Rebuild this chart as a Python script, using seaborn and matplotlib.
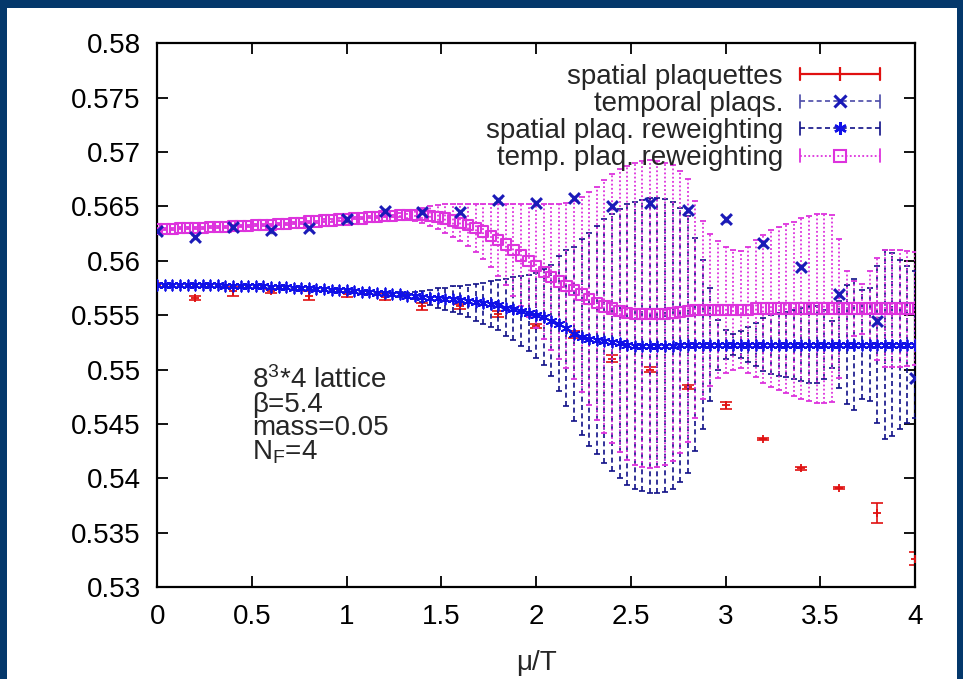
import numpy as np
import matplotlib
matplotlib.use("Agg")
import matplotlib.pyplot as plt
import seaborn as sns
from matplotlib.lines import Line2D
from matplotlib.legend_handler import HandlerBase
from matplotlib.patches import Rectangle

# ---------------- data ----------------
mu_coarse = [0.0, 0.2, 0.4, 0.6, 0.8, 1.0, 1.2, 1.4, 1.6, 1.8, 2.0,
             2.2, 2.4, 2.6, 2.8, 3.0, 3.2, 3.4, 3.6, 3.8, 4.0]

spatial_plaq = [0.5578, 0.5566, 0.5572, 0.5572, 0.5568, 0.5569, 0.5567, 0.5558, 0.5558, 0.5551, 0.5540,
                0.5532, 0.5510, 0.5500, 0.5484, 0.5467, 0.5436, 0.5409, 0.5391, 0.5368, 0.5326]
spatial_plaq_err = [0.0002, 0.0002, 0.0004, 0.0002, 0.0004, 0.0002, 0.0003, 0.0003, 0.0002, 0.0003, 0.0002,
                    0.0003, 0.0003, 0.0002, 0.0002, 0.0003, 0.0001, 0.0001, 0.0001, 0.0009, 0.0006]

temporal_plaq = [0.5627, 0.5622, 0.5631, 0.5628, 0.5630, 0.5638, 0.5646, 0.5645, 0.5645, 0.5656, 0.5653,
                 0.5658, 0.5650, 0.5653, 0.5647, 0.5638, 0.5616, 0.5594, 0.5569, 0.5545, 0.5492]
temporal_plaq_err = [0.0002, 0.0002, 0.0002, 0.0002, 0.0002, 0.0002, 0.0002, 0.0002, 0.0002, 0.0002, 0.0002,
                     0.0002, 0.0002, 0.0002, 0.0002, 0.0002, 0.0002, 0.0002, 0.0002, 0.0003, 0.0003]

mu_fine = np.round(np.arange(101) * 0.04, 2)

spatial_rw = [
    0.5578, 0.5578, 0.5578, 0.5578, 0.5578, 0.5578, 0.5578, 0.5578, 0.5578, 0.5577,
    0.5577, 0.5577, 0.5577, 0.5577, 0.5577, 0.5576, 0.5576, 0.5576, 0.5575, 0.5575,
    0.5575, 0.5574, 0.5574, 0.5573, 0.5573, 0.5573, 0.5572, 0.5571, 0.5571, 0.5570,
    0.5570, 0.5569, 0.5569, 0.5568, 0.5568, 0.5567, 0.5566, 0.5566, 0.5565, 0.5565,
    0.5564, 0.5563, 0.5562, 0.5561, 0.5560, 0.5559, 0.5557, 0.5556, 0.5554, 0.5552,
    0.5550, 0.5548, 0.5545, 0.5542, 0.5538, 0.5533, 0.5530, 0.5528, 0.5527, 0.5526,
    0.5525, 0.5524, 0.5523, 0.5522, 0.5522, 0.5522, 0.5522, 0.5522, 0.5522, 0.5523,
    0.5523, 0.5523, 0.5523, 0.5523, 0.5523, 0.5523, 0.5523, 0.5523, 0.5523, 0.5523,
    0.5523, 0.5523, 0.5523, 0.5523, 0.5523, 0.5523, 0.5523, 0.5523, 0.5523, 0.5523,
    0.5523, 0.5523, 0.5523, 0.5523, 0.5523, 0.5523, 0.5523, 0.5523, 0.5523, 0.5523,
    0.5523]
spatial_rw_err = [
    0.0001, 0.0001, 0.0001, 0.0001, 0.0001, 0.0001, 0.0001, 0.0001, 0.0001, 0.0001,
    0.0001, 0.0001, 0.0001, 0.0001, 0.0001, 0.0001, 0.0001, 0.0001, 0.0001, 0.0001,
    0.0001, 0.0001, 0.0001, 0.0001, 0.0001, 0.0001, 0.0001, 0.0001, 0.0001, 0.0001,
    0.0001, 0.0001, 0.0002, 0.0002, 0.0003, 0.0005, 0.0007, 0.0009, 0.0010, 0.0012,
    0.0013, 0.0015, 0.0017, 0.0019, 0.0021, 0.0023, 0.0026, 0.0029, 0.0032, 0.0035,
    0.0039, 0.0044, 0.0051, 0.0062, 0.0072, 0.0080, 0.0090, 0.0098, 0.0105, 0.0112,
    0.0118, 0.0124, 0.0129, 0.0132, 0.0134, 0.0136, 0.0136, 0.0135, 0.0132, 0.0126,
    0.0118, 0.0098, 0.0078, 0.0052, 0.0023, 0.0013, 0.0010, 0.0012, 0.0016, 0.0020,
    0.0024, 0.0027, 0.0029, 0.0030, 0.0032, 0.0034, 0.0035, 0.0035, 0.0032, 0.0022,
    0.0040, 0.0055, 0.0060, 0.0050, 0.0052, 0.0072, 0.0087, 0.0084, 0.0078, 0.0072,
    0.0068]

temporal_rw = [
    0.5629, 0.5629, 0.5629, 0.5630, 0.5630, 0.5630, 0.5630, 0.5631, 0.5631, 0.5631,
    0.5632, 0.5632, 0.5632, 0.5633, 0.5633, 0.5633, 0.5634, 0.5634, 0.5635, 0.5635,
    0.5636, 0.5636, 0.5637, 0.5637, 0.5638, 0.5638, 0.5639, 0.5639, 0.5640, 0.5640,
    0.5641, 0.5641, 0.5642, 0.5642, 0.5642, 0.5642, 0.5641, 0.5640, 0.5639, 0.5637,
    0.5635, 0.5633, 0.5630, 0.5627, 0.5623, 0.5619, 0.5615, 0.5610, 0.5605, 0.5600,
    0.5595, 0.5590, 0.5585, 0.5581, 0.5577, 0.5573, 0.5569, 0.5565, 0.5561, 0.5558,
    0.5556, 0.5554, 0.5552, 0.5551, 0.5551, 0.5551, 0.5551, 0.5551, 0.5552, 0.5553,
    0.5554, 0.5555, 0.5555, 0.5555, 0.5555, 0.5555, 0.5555, 0.5555, 0.5555, 0.5556,
    0.5556, 0.5556, 0.5556, 0.5556, 0.5556, 0.5556, 0.5556, 0.5556, 0.5556, 0.5556,
    0.5556, 0.5556, 0.5556, 0.5556, 0.5556, 0.5556, 0.5556, 0.5556, 0.5556, 0.5556,
    0.5556]
temporal_rw_err = [
    0.0001, 0.0001, 0.0001, 0.0001, 0.0001, 0.0001, 0.0001, 0.0001, 0.0001, 0.0001,
    0.0001, 0.0001, 0.0001, 0.0001, 0.0001, 0.0001, 0.0001, 0.0001, 0.0001, 0.0001,
    0.0001, 0.0001, 0.0001, 0.0001, 0.0001, 0.0001, 0.0001, 0.0001, 0.0001, 0.0001,
    0.0001, 0.0001, 0.0002, 0.0004, 0.0005, 0.0007, 0.0009, 0.0011, 0.0013, 0.0015,
    0.0017, 0.0019, 0.0022, 0.0025, 0.0029, 0.0033, 0.0037, 0.0042, 0.0047, 0.0052,
    0.0057, 0.0062, 0.0067, 0.0071, 0.0076, 0.0082, 0.0090, 0.0098, 0.0107, 0.0116,
    0.0124, 0.0130, 0.0135, 0.0139, 0.0141, 0.0142, 0.0141, 0.0139, 0.0136, 0.0130,
    0.0121, 0.0100, 0.0082, 0.0070, 0.0063, 0.0058, 0.0055, 0.0054, 0.0058, 0.0063,
    0.0068, 0.0072, 0.0075, 0.0078, 0.0080, 0.0083, 0.0085, 0.0087, 0.0087, 0.0086,
    0.0064, 0.0035, 0.0025, 0.0023, 0.0035, 0.0047, 0.0054, 0.0054, 0.0054, 0.0053,
    0.0052]

legend_labels = ["spatial plaquettes", "temporal plaqs.",
                 "spatial plaq. reweighting", "temp. plaq. reweighting"]
annotation_lines = [r"8$^{3}$*4 lattice", "\u03b2=5.4", "mass=0.05", r"N$_{\mathrm{F}}$=4"]
xtick_vals = [0, 0.5, 1, 1.5, 2, 2.5, 3, 3.5, 4]
xtick_labels = ["0", "0.5", "1", "1.5", "2", "2.5", "3", "3.5", "4"]
ytick_vals = [0.53, 0.535, 0.54, 0.545, 0.55, 0.555, 0.56, 0.565, 0.57, 0.575, 0.58]
ytick_labels = ["0.53", "0.535", "0.54", "0.545", "0.55", "0.555", "0.56", "0.565", "0.57", "0.575", "0.58"]
x_label = "\u03bc/T"

# ---------------- style ----------------
sns.set_theme(style="ticks")
plt.rcParams['font.family'] = ['Liberation Sans', 'DejaVu Sans']
plt.rcParams['mathtext.fontset'] = 'custom'
plt.rcParams['mathtext.rm'] = 'Liberation Sans'
plt.rcParams['mathtext.it'] = 'Liberation Sans:italic'
plt.rcParams['mathtext.bf'] = 'Liberation Sans:bold'

FS = 20
RED = '#e01010'
XBLUE = '#1a1ab8'
TBAR = '#4a4aa8'
SBLUE = '#1010e8'
SBAR = '#101088'
PINK = '#dd33dd'
NAVY = '#04386b'

fig = plt.figure(figsize=(9.63, 6.79), dpi=100, facecolor='white')
ax = fig.add_axes([0.1633, 0.1355, 0.7869, 0.8007])
ax.set_facecolor('white')

for r in [Rectangle((0, 0), 7 / 963, 1), Rectangle((0, 1 - 8 / 679), 1, 8 / 679),
          Rectangle((1 - 6 / 963, 0), 6 / 963, 1)]:
    r.set_transform(fig.transFigure)
    r.set_facecolor(NAVY)
    r.set_edgecolor('none')
    fig.patches.append(r)


def gp_errorbar(x, y, e, color, ls, lw, capsize, z):
    eb = ax.errorbar(x, y, yerr=e, fmt='none', ecolor=color, elinewidth=lw,
                     capsize=capsize, capthick=lw, zorder=z)
    for coll in eb[2]:
        coll.set_linestyle(ls)
    return eb


# spatial plaquettes (red)
gp_errorbar(mu_coarse, spatial_plaq, spatial_plaq_err, RED, '-', 1.2, 4, 2)
sns.scatterplot(x=mu_coarse, y=spatial_plaq, marker='+', s=30, color=RED,
                linewidth=1.3, ax=ax, zorder=3, legend=False)

# temporal plaqs (blue x)
gp_errorbar(mu_coarse, temporal_plaq, temporal_plaq_err, TBAR, (0, (3, 2)), 1.0, 3, 2)
sns.scatterplot(x=mu_coarse, y=temporal_plaq, marker='x', s=60, color=XBLUE,
                linewidth=2.2, ax=ax, zorder=6, legend=False)

# spatial plaq reweighting (blue asterisks, dashed bars)
gp_errorbar(mu_fine, spatial_rw, spatial_rw_err, SBAR, (0, (3, 2)), 1.2, 2.5, 3)
sns.scatterplot(x=mu_fine, y=spatial_rw, marker=(6, 2, 0), s=55, color=SBLUE,
                linewidth=1.3, ax=ax, zorder=5, legend=False)

# temporal plaq reweighting (pink squares, dotted bars)
gp_errorbar(mu_fine, temporal_rw, temporal_rw_err, PINK, (0, (1, 1.3)), 1.3, 2.5, 4)
sns.scatterplot(x=mu_fine, y=temporal_rw, marker='s', s=55, color=PINK,
                linewidth=1.5, ax=ax, zorder=5, legend=False)
ax.collections[-1].set_facecolor('none')
ax.collections[-1].set_edgecolor(PINK)

ax.set_xlim(0, 4)
ax.set_ylim(0.53, 0.58)
ax.set_xticks(xtick_vals)
ax.set_xticklabels(xtick_labels)
ax.set_yticks(ytick_vals)
ax.set_yticklabels(ytick_labels)
ax.tick_params(direction='in', length=8, width=1.3, top=True, right=True,
               labelsize=FS, colors='black')
ax.tick_params(axis='y', pad=12)
ax.tick_params(axis='x', pad=12)
for s in ax.spines.values():
    s.set_visible(True)
    s.set_linewidth(1.6)
    s.set_color('black')
ax.set_xlabel(x_label, fontsize=FS, labelpad=15)
ax.set_ylabel('')
ax.grid(False)

ax.text(0.5, 0.5457, "\n".join(annotation_lines), fontsize=FS, ha='left', va='center',
        multialignment='left', linespacing=0.87)


class GnuKey:
    def __init__(self, color, ls, lw, marker, ms, mfc, mec, mew):
        self.color, self.ls, self.lw = color, ls, lw
        self.marker, self.ms, self.mfc, self.mec, self.mew = marker, ms, mfc, mec, mew


class GnuHandler(HandlerBase):
    def create_artists(self, legend, orig, xdescent, ydescent, width, height, fontsize, trans):
        y = height / 2 - ydescent
        x0 = -xdescent
        x1 = -xdescent + width
        cap = height * 0.32
        arts = [Line2D([x0, x1], [y, y], color=orig.color, ls=orig.ls, lw=orig.lw, transform=trans),
                Line2D([x0, x0], [y - cap, y + cap], color=orig.color, lw=orig.lw, transform=trans),
                Line2D([x1, x1], [y - cap, y + cap], color=orig.color, lw=orig.lw, transform=trans),
                Line2D([(x0 + x1) / 2], [y], ls='none', marker=orig.marker, ms=orig.ms,
                       mfc=orig.mfc, mec=orig.mec, mew=orig.mew, transform=trans)]
        return arts


keys = [GnuKey(RED, '-', 1.6, '|', 10, RED, RED, 1.6),
        GnuKey(TBAR, (0, (3, 2)), 1.2, 'x', 9, XBLUE, XBLUE, 2.2),
        GnuKey(SBAR, (0, (3, 2)), 1.2, (6, 2, 0), 9, SBLUE, SBLUE, 1.8),
        GnuKey(PINK, (0, (1, 1.3)), 1.3, 's', 8, 'none', PINK, 1.5)]

leg = ax.legend(keys, legend_labels, handler_map={GnuKey: GnuHandler()},
                loc='upper right', bbox_to_anchor=(0.954, 0.962), frameon=False,
                markerfirst=False, fontsize=FS, handlelength=2.9, handletextpad=0.6,
                labelspacing=0.04, borderpad=0, borderaxespad=0)

fig.savefig('out.png', dpi=100, facecolor='white')
